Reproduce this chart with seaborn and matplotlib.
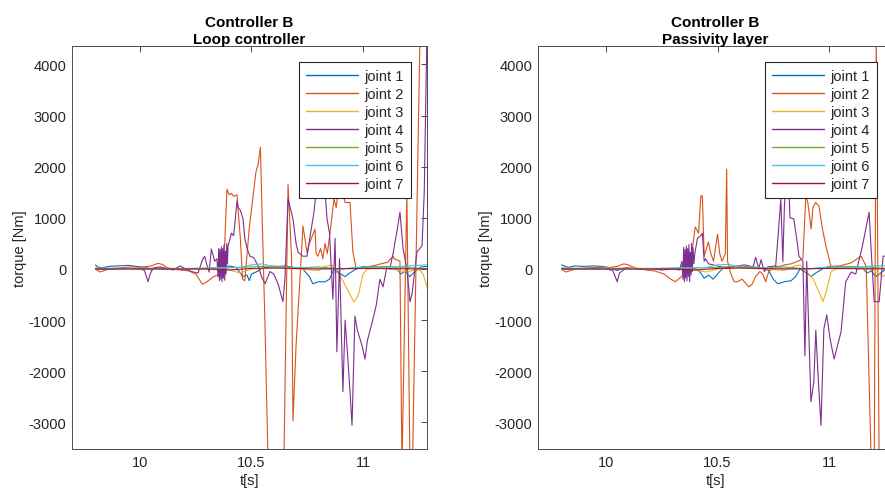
import numpy as np
import pandas as pd
import matplotlib
matplotlib.use("Agg")
import matplotlib.pyplot as plt
import seaborn as sns

# ---------------- data (left panel: Loop controller) ----------------
t_L1 = [9.80, 9.81, 9.83, 9.86, 9.90, 9.95, 10.00, 10.03, 10.05, 10.07, 10.10, 10.15, 10.20, 10.30, 10.35,
        10.40, 10.43, 10.45, 10.46, 10.48, 10.49, 10.50, 10.53, 10.55, 10.57, 10.60, 10.65, 10.70, 10.73,
        10.76, 10.775, 10.80, 10.83, 10.85, 10.86, 10.87, 10.90, 10.92, 10.94, 10.97, 11.00, 11.05, 11.10,
        11.13, 11.15, 11.17, 11.19, 11.21, 11.23, 11.26, 11.287]
v_L1 = [80, 40, 20, 50, 60, 70, 40, 30, -20, 20, 0, -10, 0, 10, 20,
        60, 30, -80, -150, -120, -230, -100, -40, 20, 30, 40, 60, 20, 0,
        -150, -290, -250, -250, -200, -100, 0, -100, -150, -80, 0, 50, 40, 20,
        0, 20, -100, -40, -150, -60, 40, 50]

t_L2 = [9.80, 9.82, 9.84, 9.87, 9.91, 9.96, 10.00, 10.05, 10.08, 10.10, 10.12, 10.14, 10.18, 10.22, 10.25,
        10.28, 10.30, 10.33, 10.36, 10.38, 10.39, 10.40, 10.41, 10.42, 10.435, 10.45, 10.46, 10.47, 10.49,
        10.52, 10.53, 10.54, 10.545, 10.56, 10.575, 10.645, 10.664, 10.68, 10.686, 10.70, 10.731, 10.749,
        10.76, 10.785, 10.79, 10.798, 10.81, 10.82, 10.83, 10.84, 10.855, 10.87, 10.88, 10.89, 10.906,
        10.92, 10.942, 10.955, 10.97, 10.99, 11.045, 11.08, 11.11, 11.135, 11.14, 11.166, 11.175, 11.197,
        11.211, 11.222, 11.256, 11.287]
v_L2 = [0, -60, -30, 10, 20, 40, 30, 60, 110, 90, 30, 0, -20, -40, -100,
        -300, -250, -150, -100, 500, 1560, 1450, 1480, 1420, 1450, 600, -200, -230, 800,
        1900, 2050, 2380, 1500, -1000, -3900, -3900, 1650, 200, -2970, -1500, 840, 330,
        500, 780, 300, 250, 400, 200, 500, 300, 800, 1370, 1200, 1600, 1560,
        1300, 1300, 330, 0, 20, 60, 100, 130, 250, 200, 150, -3900, 1500,
        -3900, -3900, 4600, 4600]

t_L3 = [9.80, 10.10, 10.40, 10.45, 10.50, 10.60, 10.70, 10.80, 10.83, 10.86, 10.88, 10.90, 10.93, 10.96,
        10.98, 11.00, 11.02, 11.10, 11.20, 11.25, 11.27, 11.287]
v_L3 = [0, 20, -20, -80, 0, 20, 0, -30, 50, 80, -50, -150, -400, -650,
        -500, -100, 0, 20, -60, 0, -100, -350]

t_L4 = [9.80, 9.85, 9.90, 9.95, 10.00, 10.02, 10.036, 10.045, 10.06, 10.09, 10.12, 10.15, 10.18, 10.20,
        10.23, 10.26, 10.28, 10.29, 10.30, 10.31, 10.32, 10.335, 10.345,
        10.350, 10.353, 10.356, 10.359, 10.362, 10.365, 10.368, 10.371, 10.374, 10.377, 10.380, 10.383,
        10.386, 10.389, 10.392, 10.395,
        10.404, 10.41, 10.42, 10.435, 10.44, 10.45, 10.462, 10.47, 10.48, 10.493, 10.51, 10.53, 10.545,
        10.561, 10.583, 10.60, 10.62, 10.641, 10.65, 10.664, 10.686, 10.70, 10.709, 10.73, 10.749, 10.765,
        10.78, 10.79, 10.807, 10.82, 10.83, 10.839, 10.85, 10.865, 10.875, 10.883, 10.895, 10.91, 10.92,
        10.933, 10.942, 10.951, 10.964, 10.975, 10.996, 11.009, 11.02, 11.045, 11.06, 11.076, 11.09,
        11.108, 11.12, 11.135, 11.155, 11.166, 11.18, 11.197, 11.211, 11.22, 11.242, 11.255, 11.265,
        11.275, 11.287]
v_L4 = [0, -10, 0, 10, 0, -30, -250, -100, 20, 40, 10, -20, 60, 10,
        -50, -80, 180, 250, 80, -60, 390, 150, 200,
        -150, 400, -230, 380, -200, 430, -250, 400, -180, 470, -220, 350,
        -100, 500, 100, 450,
        590, 700, 650, 1330, 1200, 1150, 980, 600, 400, 250, 220, 60, -150,
        -290, -50, -100, -300, -640, -200, 1370, 980, 500, 330, 250, 250, 700,
        1100, 1500, 1890, 1700, 1500, 980, 700, -590, 600, -1620, 200, -2400, -1000,
        -1800, -2400, -3060, -920, -1200, -1500, -1760, -1400, -980, -700, -200, -350,
        50, 0, 300, 800, 1110, 400, 0, -640, -500, 330, 400, 450,
        1500, 4600]

t_L5 = [9.80, 10.00, 10.30, 10.50, 10.60, 10.70, 10.80, 10.90, 11.00, 11.10, 11.20, 11.287]
v_L5 = [20, 0, 10, 40, 60, 20, 40, 0, 30, 50, 30, 0]

t_L6 = [9.80, 10.20, 10.45, 10.50, 10.55, 10.60, 10.75, 10.90, 11.00, 11.10, 11.20, 11.287]
v_L6 = [0, 10, 30, 80, 100, 40, 20, 0, 40, 20, 60, 80]

t_L7 = [9.80, 10.30, 10.40, 10.50, 10.60, 10.80, 11.00, 11.287]
v_L7 = [0, 0, -20, 10, 20, 0, 10, 0]

# ---------------- data (right panel: Passivity layer) ----------------
t_R1 = [9.80, 9.83, 9.86, 9.90, 9.95, 10.00, 10.05, 10.08, 10.15, 10.30, 10.38, 10.40, 10.42, 10.44,
        10.46, 10.48, 10.50, 10.52, 10.55, 10.58, 10.62, 10.64, 10.70, 10.73, 10.75, 10.77, 10.80, 10.83,
        10.85, 10.87, 10.90, 10.92, 10.94, 10.97, 11.00, 11.05, 11.10, 11.13, 11.15, 11.17, 11.19, 11.21,
        11.24, 11.27, 11.29]
v_R1 = [80, 30, 60, 50, 60, 40, -30, 20, 0, 10, 30, 0, -50, -180,
        -120, -200, -100, 0, 40, 50, 20, 40, 20, -30, -200, -290, -250, -230,
        -150, 0, -80, -150, -80, 0, 50, 40, 20, 0, 20, -80, -40, -150,
        -50, 30, 40]

t_R2 = [9.80, 9.82, 9.84, 9.87, 9.91, 9.96, 10.00, 10.05, 10.08, 10.10, 10.13, 10.18, 10.22, 10.26, 10.29,
        10.31, 10.33, 10.35, 10.37, 10.385, 10.40, 10.415, 10.425, 10.432, 10.44, 10.459, 10.47, 10.482,
        10.50, 10.51, 10.52, 10.535, 10.541, 10.545, 10.56, 10.575, 10.59, 10.61, 10.64, 10.655, 10.671,
        10.69, 10.703, 10.716, 10.73, 10.76, 10.78, 10.80, 10.83, 10.86, 10.883, 10.896, 10.905, 10.92,
        10.928, 10.94, 10.955, 10.97, 10.986, 11.009, 11.05, 11.10, 11.144, 11.167, 11.19, 11.203, 11.212,
        11.225, 11.243, 11.265, 11.29]
v_R2 = [0, -60, -30, 10, 20, 30, 20, 50, 100, 80, 20, -20, -40, -100, -200,
        -250, -180, -100, 100, 330, 820, 700, 1430, 1430, 250, 530, 300, 150,
        680, 300, 150, 300, 1950, 150, -100, -250, -250, -200, -350, -300, -150,
        -50, -100, -250, -50, 50, 50, 80, 100, 150, 200, 1430, 1300, 780,
        1200, 1300, 1230, 800, 450, 50, 60, 120, 250, 50, -3900, -3900, 4600,
        -3900, -3900, -3900, -300]

t_R3 = [9.80, 10.10, 10.40, 10.45, 10.50, 10.60, 10.70, 10.80, 10.84, 10.87, 10.90, 10.93, 10.955, 10.973,
        10.99, 11.01, 11.03, 11.10, 11.20, 11.22, 11.24, 11.29]
v_R3 = [0, 20, -20, -60, 0, 20, 0, -30, 50, 80, -50, -200, -450, -640,
        -400, -50, 0, 20, -20, -80, -150, 0]

t_R4 = [9.80, 9.90, 10.00, 10.03, 10.05, 10.06, 10.09, 10.15, 10.20, 10.25, 10.30, 10.33, 10.34,
        10.345, 10.348, 10.351, 10.354, 10.357, 10.360, 10.363, 10.366, 10.369, 10.372, 10.375, 10.378,
        10.381, 10.384, 10.387, 10.390, 10.394, 10.398,
        10.41, 10.423, 10.432, 10.44, 10.446, 10.46, 10.50, 10.54, 10.58, 10.62, 10.66, 10.671, 10.685,
        10.695, 10.71, 10.725, 10.761, 10.775, 10.784, 10.793, 10.80, 10.815, 10.825, 10.842, 10.855,
        10.865, 10.883, 10.892, 10.90, 10.919, 10.932, 10.941, 10.950, 10.964, 10.977, 10.99, 11.005,
        11.023, 11.054, 11.075, 11.10, 11.12, 11.15, 11.18, 11.19, 11.203, 11.225, 11.243, 11.257, 11.29]
v_R4 = [0, 0, 0, -30, -250, -80, 20, 0, 10, -20, 0, -20, 150,
        -200, 420, -250, 380, -180, 450, -230, 400, -150, 480, -250, 330,
        -120, 500, -50, 420, 100, 300,
        600, 640, 700, 150, 200, 100, 60, 20, 50, 80, 40, 230, 0,
        180, -50, 40, 60, 840, 1370, 140, 1230, 2200, 1000, 980, 600,
        250, 150, -1700, 150, -2600, -2200, -1200, -2000, -3060, -1170, -900, -1370,
        -1760, -1230, -250, -60, -100, 450, 1110, 300, -640, -640, 250, 250, 300]

t_R5 = [9.80, 10.00, 10.30, 10.50, 10.60, 10.70, 10.80, 10.90, 11.00, 11.10, 11.20, 11.29]
v_R5 = [20, 0, 10, 30, 60, 20, 40, 0, 30, 50, 30, 0]

t_R6 = [9.80, 10.20, 10.45, 10.50, 10.55, 10.60, 10.75, 10.90, 11.00, 11.10, 11.20, 11.29]
v_R6 = [0, 10, 30, 80, 90, 40, 20, 0, 40, 20, 60, 70]

t_R7 = [9.80, 10.30, 10.40, 10.50, 10.60, 10.80, 11.00, 11.29]
v_R7 = [0, 0, -20, 10, 20, 0, 10, 0]

joint_labels = ["joint 1", "joint 2", "joint 3", "joint 4", "joint 5", "joint 6", "joint 7"]
colors = ["#0072BD", "#D95319", "#EDB120", "#7E2F8E", "#77AC30", "#4DBEEE", "#A2142F"]
titles = ["Controller B\nLoop controller", "Controller B\nPassivity layer"]
yticks = [-3000, -2000, -1000, 0, 1000, 2000, 3000, 4000]
xticks = [10, 10.5, 11]
ylim = (-3520, 4360)
xlim = (9.695, 11.287)

left_series = [(t_L1, v_L1), (t_L2, v_L2), (t_L3, v_L3), (t_L4, v_L4), (t_L5, v_L5), (t_L6, v_L6), (t_L7, v_L7)]
right_series = [(t_R1, v_R1), (t_R2, v_R2), (t_R3, v_R3), (t_R4, v_R4), (t_R5, v_R5), (t_R6, v_R6), (t_R7, v_R7)]


def make_df(series):
    parts = []
    for lab, (t, v) in zip(joint_labels, series):
        parts.append(pd.DataFrame({"t": t, "torque": v, "joint": lab}))
    return pd.concat(parts, ignore_index=True)


sns.set_style("white")
plt.rcParams["font.family"] = ["Liberation Sans", "DejaVu Sans"]
AX_COLOR = "#262626"

fig = plt.figure(figsize=(8.85, 4.89), dpi=100)
ax1 = fig.add_axes([0.0814, 0.0798, 0.401, 0.8241])
ax2 = fig.add_axes([0.6080, 0.0798, 0.401, 0.8241])

for ax, series, title in [(ax1, left_series, titles[0]), (ax2, right_series, titles[1])]:
    df = make_df(series)
    sns.lineplot(data=df, x="t", y="torque", hue="joint", hue_order=joint_labels,
                 palette=colors, estimator=None, sort=False, linewidth=0.8, ax=ax)
    ax.set_xlim(*xlim)
    ax.set_ylim(*ylim)
    ax.set_xticks(xticks)
    ax.set_xticklabels(["10", "10.5", "11"])
    ax.set_yticks(yticks)
    ax.set_yticklabels([str(y) for y in yticks])
    ax.tick_params(direction="in", top=True, right=True, length=4, width=0.6,
                   colors=AX_COLOR, labelsize=10.5, pad=4)
    for sp in ax.spines.values():
        sp.set_color("#4d4d4d")
        sp.set_linewidth(0.7)
        sp.set_visible(True)
    ax.set_xlabel("t[s]", fontsize=10.5, color=AX_COLOR, labelpad=3)
    ax.set_ylabel("torque [Nm]", fontsize=10.5, color=AX_COLOR, labelpad=1.5)
    ax.set_title(title, fontsize=11, fontweight="bold", color="black", pad=2.5, linespacing=1.25)
    sns.move_legend(ax, "upper right", bbox_to_anchor=(1, 1), borderaxespad=1.1,
                    title=None, frameon=True, fancybox=False, framealpha=1,
                    fontsize=10.5, labelspacing=0.27, handlelength=3.6,
                    handletextpad=0.4, borderpad=0.5)
    leg = ax.get_legend()
    leg.get_frame().set_edgecolor(AX_COLOR)
    leg.get_frame().set_linewidth(0.8)
    for line in leg.get_lines():
        line.set_linewidth(1.0)

fig.savefig("out.png", dpi=100)
